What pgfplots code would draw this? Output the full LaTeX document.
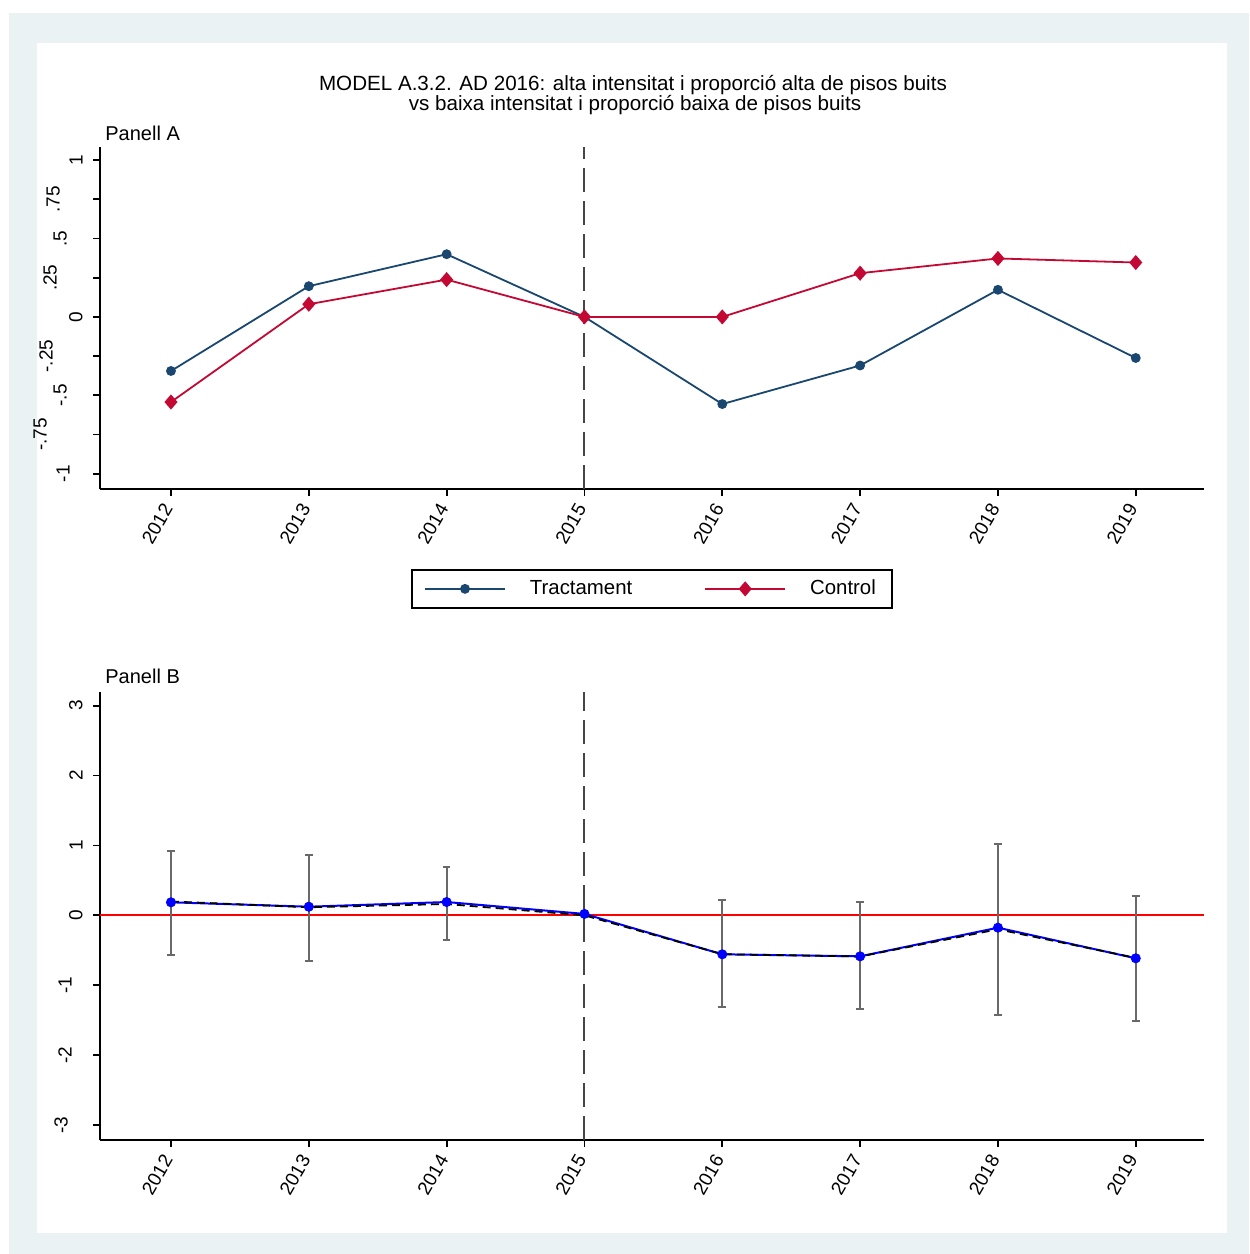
\documentclass[border=0pt]{standalone}
\usepackage{fontspec}
\setmainfont{Liberation Sans}
\usepackage{pgfplots}
\pgfplotsset{compat=1.18}
\definecolor{bgc}{RGB}{234,242,243}
\definecolor{navy}{RGB}{26,71,111}
\definecolor{cran}{RGB}{196,8,52}
\definecolor{refgray}{RGB}{70,70,70}
\definecolor{ebgray}{RGB}{105,105,105}
\pgfplotsset{
  stata/.style={
    scale only axis, width=552pt,
    axis lines=left, axis line style={-, line width=0.9pt, black},
    tick align=outside, major tick length=3.5pt,
    tick style={black, line width=0.9pt},
    xmin=2011.485, xmax=2019.495,
    xtick={2012,2013,2014,2015,2016,2017,2018,2019},
    xticklabels={2012,2013,2014,2015,2016,2017,2018,2019},
    xticklabel shift=2pt,
    xticklabel style={rotate=60, anchor=east, inner sep=3pt, font=\fontsize{9.5}{10}\selectfont},
    yticklabel shift=5pt,
    yticklabel style={rotate=90, anchor=south, inner sep=0pt, font=\fontsize{9.5}{10}\selectfont},
    legend image code/.code={\draw[mark repeat=2,mark phase=2,#1] plot coordinates {(0pt,0pt) (20pt,0pt) (40pt,0pt)};},
  }
}
\begin{document}
\begin{tikzpicture}
\fill[white] (0pt,0pt) rectangle (624.5pt,-627pt);
\fill[bgc] (4.5pt,-6.5pt) rectangle (624.5pt,-627pt);
\fill[white] (18.5pt,-21.5pt) rectangle (613.5pt,-616.5pt);
\node[anchor=base, font=\fontsize{10.3}{12}\selectfont] at (316.5pt,-45pt) {MODEL A.3.2. AD 2016: alta intensitat i proporció alta de pisos buits};
\node[anchor=base, font=\fontsize{10.3}{12}\selectfont] at (317.5pt,-55pt) {vs baixa intensitat i proporció baixa de pisos buits};
\node[anchor=base west, inner sep=0pt, font=\fontsize{10}{12}\selectfont] at (52.5pt,-70pt) {Panell A};
\node[anchor=base west, inner sep=0pt, font=\fontsize{10}{12}\selectfont] at (52.5pt,-341.7pt) {Panell B};

\begin{axis}[stata, at={(50pt,-244.5pt)}, anchor=south west, height=171pt,
  ymin=-1.098, ymax=1.084,
  ytick={-1,-0.75,-0.5,-0.25,0,0.25,0.5,0.75,1},
  yticklabels={{\raisebox{6.5pt}{-1}},{\raisebox{18pt}{-.75}},{\raisebox{8pt}{-.5}},{\raisebox{15pt}{-.25}},{0},{\raisebox{13pt}{.25}},{\raisebox{8pt}{.5}},{\raisebox{11.5pt}{.75}},{1}},
  legend style={at={(0.5,-0.292)}, anchor=center, draw=black, line width=0.8pt, inner xsep=6pt, inner ysep=3pt,
    font=\fontsize{10.2}{12}\selectfont, legend columns=2,
    /tikz/every odd column/.append style={column sep=10pt},
    /tikz/every even column/.append style={column sep=34pt}},
  legend cell align=left]
\addplot[refgray, line width=1pt, dash pattern=on 12pt off 4.5pt, forget plot] coordinates {(2015,-1.098) (2015,1.084)};
\addplot[navy, line width=0.9pt, mark=*, mark size=2pt, mark options={solid}] coordinates {
(2012,-0.345) (2013,0.196) (2014,0.400) (2015,0) (2016,-0.556) (2017,-0.310) (2018,0.173) (2019,-0.262)};
\addlegendentry{Tractament}
\addplot[cran, line width=0.9pt, mark=diamond*, mark size=3.1pt, mark options={solid, xscale=1.15}] coordinates {
(2012,-0.543) (2013,0.081) (2014,0.238) (2015,0) (2016,0) (2017,0.279) (2018,0.373) (2019,0.347)};
\addlegendentry{Control}
\end{axis}

\begin{axis}[stata, at={(50pt,-570pt)}, anchor=south west, height=224pt,
  ymin=-3.215, ymax=3.195,
  ytick={-3,-2,-1,0,1,2,3},
  yticklabels={{\raisebox{7.5pt}{-3}},{\raisebox{5.5pt}{-2}},{\raisebox{5.5pt}{-1}},{0},{1},{2},{3}}]
\addplot[red, line width=1pt] coordinates {(2011.485,0) (2019.495,0)};
\addplot[refgray, line width=1pt, dash pattern=on 12pt off 4.5pt] coordinates {(2015,-3.215) (2015,3.22)};
\addplot[draw=none, mark=none, error bars/.cd, y dir=both, y explicit,
  error bar style={draw=ebgray, solid, line width=0.9pt},
  error mark options={draw=ebgray, solid, line width=0.9pt, mark size=1.9pt, rotate=90}] coordinates {
(2012,0.186) += (0,0.738) -= (0,0.750)
(2013,0.123) += (0,0.744) -= (0,0.773)
(2014,0.190) += (0,0.497) -= (0,0.543)
(2016,-0.558) += (0,0.773) -= (0,0.749)
(2017,-0.587) += (0,0.773) -= (0,0.749)
(2018,-0.177) += (0,1.193) -= (0,1.245)
(2019,-0.615) += (0,0.887) -= (0,0.897)};
\addplot[blue, line width=1pt, mark=none] coordinates {
(2012,0.186) (2013,0.123) (2014,0.190) (2015,0.02) (2016,-0.558) (2017,-0.587) (2018,-0.177) (2019,-0.615)};
\addplot[black, line width=0.9pt, dash pattern=on 4pt off 2.5pt] coordinates {
(2012,0.198) (2013,0.115) (2014,0.162) (2015,0) (2016,-0.556) (2017,-0.589) (2018,-0.200) (2019,-0.609)};
\addplot[blue, only marks, mark=*, mark size=2.3pt] coordinates {
(2012,0.186) (2013,0.123) (2014,0.190) (2015,0.02) (2016,-0.558) (2017,-0.587) (2018,-0.177) (2019,-0.615)};
\end{axis}
\end{tikzpicture}
\end{document}
